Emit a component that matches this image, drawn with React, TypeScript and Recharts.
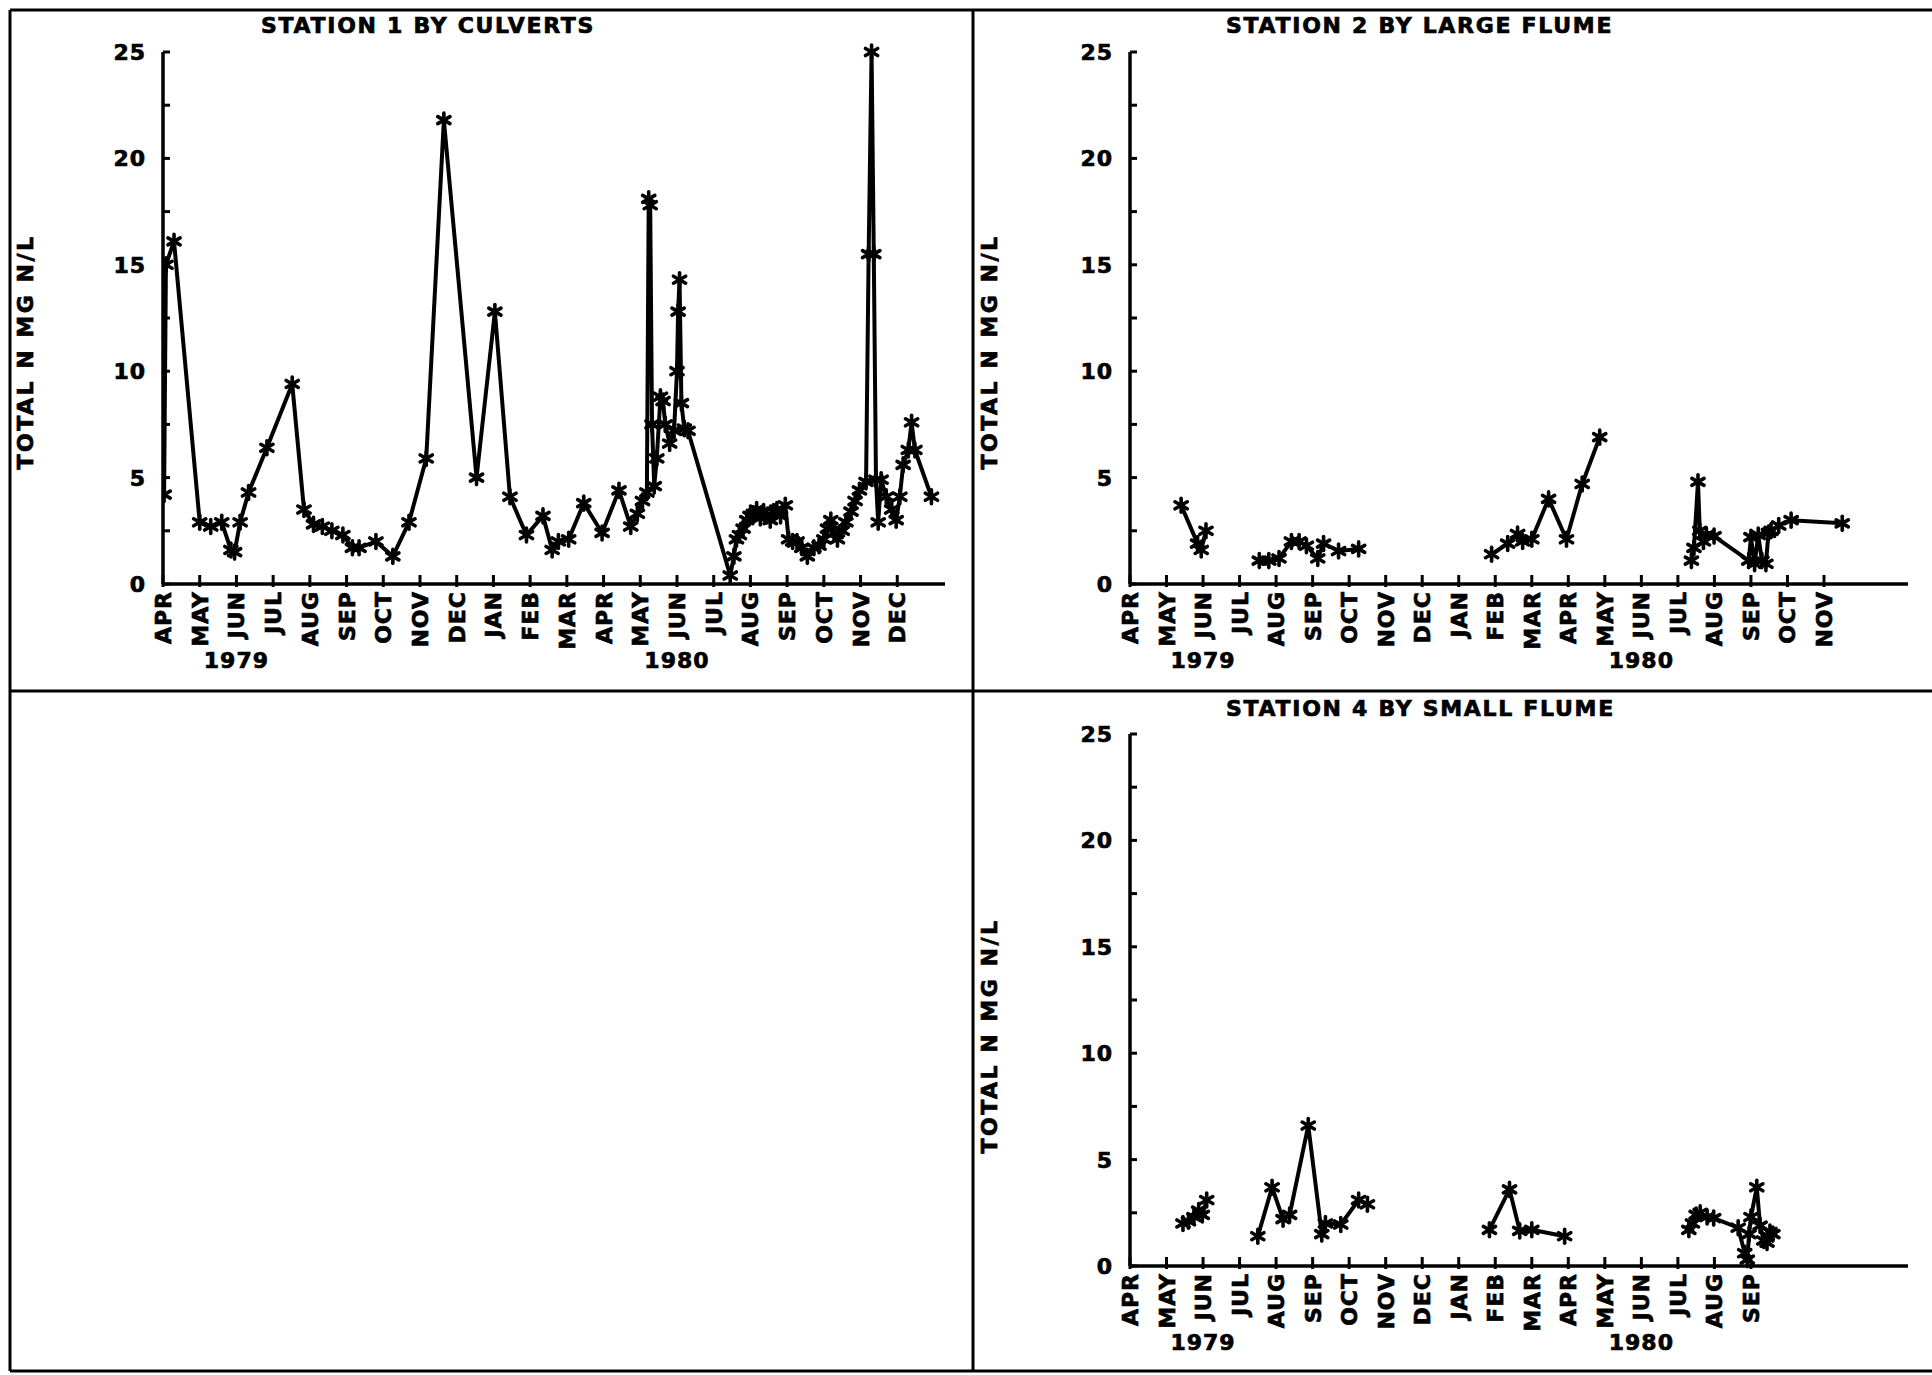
import React from "react";
import { Line, LineChart, XAxis, YAxis } from "recharts";

/* ---------- data: x = months since 1 Apr 1979, y = total N (mg N/L) ---------- */

const MONTH_LABELS = [
  "APR", "MAY", "JUN", "JUL", "AUG", "SEP", "OCT", "NOV", "DEC",
  "JAN", "FEB", "MAR", "APR", "MAY", "JUN", "JUL", "AUG", "SEP", "OCT", "NOV", "DEC",
];
const YEAR_LABELS = [
  { at: 2, label: "1979" },
  { at: 14, label: "1980" },
];
const Y_TICKS = [0, 2.5, 5, 7.5, 10, 12.5, 15, 17.5, 20, 22.5, 25];

type Pt = [number, number];

const station1: Pt[] = [
  [0.03, 4.2], [0.08, 15.0], [0.3, 16.1], [1.0, 2.9], [1.3, 2.7], [1.6, 2.9],
  [1.85, 1.6], [1.95, 1.5], [2.1, 2.9], [2.33, 4.3], [2.83, 6.4], [3.52, 9.4],
  [3.84, 3.5], [4.1, 2.8], [4.34, 2.7], [4.6, 2.5], [4.9, 2.3], [5.16, 1.7],
  [5.34, 1.7], [5.8, 2.0], [6.26, 1.3], [6.7, 2.9], [7.17, 5.9], [7.65, 21.8],
  [8.54, 5.0], [9.04, 12.8], [9.45, 4.1], [9.9, 2.3], [10.35, 3.2], [10.6, 1.6],
  [10.77, 2.0], [11.05, 2.1], [11.46, 3.8], [11.96, 2.4], [12.42, 4.4], [12.74, 2.7],
  [12.92, 3.3], [13.06, 3.9], [13.18, 4.3], [13.23, 18.1], [13.27, 17.8], [13.32, 7.5],
  [13.38, 4.6], [13.45, 5.9], [13.55, 8.8], [13.62, 8.6], [13.68, 7.5], [13.8, 6.6],
  [13.92, 7.2], [14.0, 10.0], [14.03, 12.8], [14.07, 14.3], [14.12, 8.5], [14.2, 7.3],
  [14.3, 7.2], [15.45, 0.4], [15.55, 1.3], [15.62, 2.1], [15.7, 2.3], [15.8, 2.6],
  [15.9, 3.0], [15.99, 3.2], [16.08, 3.3], [16.17, 3.5], [16.27, 3.1], [16.36, 3.4],
  [16.45, 3.2], [16.54, 3.0], [16.63, 3.4], [16.72, 3.5], [16.82, 3.2], [16.95, 3.7],
  [17.04, 2.1], [17.15, 2.0], [17.27, 2.0], [17.4, 1.7], [17.55, 1.3], [17.73, 1.7],
  [17.87, 1.8], [18.0, 2.1], [18.1, 2.6], [18.19, 3.0], [18.28, 2.4], [18.37, 2.1],
  [18.5, 2.5], [18.6, 2.9], [18.74, 3.4], [18.85, 3.9], [18.97, 4.4], [19.15, 4.8],
  [19.22, 15.5], [19.3, 25.0], [19.36, 15.5], [19.42, 4.9], [19.48, 2.9], [19.56, 4.9],
  [19.7, 4.1], [19.85, 3.5], [19.97, 3.0], [20.07, 4.1], [20.16, 5.6], [20.3, 6.3],
  [20.39, 7.6], [20.48, 6.3], [20.93, 4.1],
];

const station2Jun79: Pt[] = [[1.4, 3.7], [1.85, 1.9], [1.95, 1.6], [2.08, 2.5]];
const station2Aug79: Pt[] = [
  [3.54, 1.1], [3.8, 1.1], [4.08, 1.2], [4.42, 2.0], [4.63, 2.0], [4.83, 1.8],
  [5.14, 1.2], [5.3, 1.9], [5.71, 1.55], [6.26, 1.65],
];
const station2Feb80: Pt[] = [
  [9.9, 1.4], [10.34, 1.9], [10.61, 2.35], [10.75, 2.0], [11.0, 2.1], [11.46, 4.0],
  [11.95, 2.1], [12.38, 4.7], [12.86, 6.9],
];
const station2Aug80: Pt[] = [
  [15.37, 1.1], [15.44, 1.7], [15.55, 4.8], [15.6, 2.5], [15.7, 2.0], [15.78, 2.3],
  [15.99, 2.25], [16.94, 1.1], [17.0, 2.2], [17.1, 0.95], [17.2, 2.3], [17.3, 1.1],
  [17.41, 0.95], [17.48, 2.4], [17.55, 2.5], [17.76, 2.75], [18.1, 3.0], [19.5, 2.85],
];

const station4Jun79: Pt[] = [[1.45, 2.0], [1.6, 2.1], [1.75, 2.3], [1.88, 2.6], [1.98, 2.4], [2.1, 3.1]];
const station4Aug79: Pt[] = [
  [3.5, 1.4], [3.89, 3.7], [4.19, 2.2], [4.37, 2.4], [4.88, 6.6], [5.25, 1.5],
  [5.35, 2.0], [5.77, 1.95], [6.26, 3.1], [6.5, 2.9],
];
const station4Feb80: Pt[] = [[9.84, 1.7], [10.39, 3.6], [10.67, 1.65], [11.0, 1.7], [11.9, 1.4]];
const station4Aug80: Pt[] = [
  [15.3, 1.7], [15.4, 2.0], [15.5, 2.4], [15.61, 2.5], [15.8, 2.3], [15.98, 2.25],
  [16.65, 1.8], [16.83, 0.6], [16.9, 0.3], [16.95, 1.5], [17.0, 2.3], [17.16, 3.7],
  [17.25, 1.9], [17.35, 1.2], [17.44, 1.1], [17.52, 1.6], [17.6, 1.5],
];

/* ---------- helpers ---------- */

// segments joined with a null row so the line breaks between sampling runs
function toRows(...segments: Pt[][]) {
  const rows: { m: number; v: number | null }[] = [];
  segments.forEach((seg, i) => {
    if (i > 0) rows.push({ m: (segments[i - 1][segments[i - 1].length - 1][0] + seg[0][0]) / 2, v: null });
    seg.forEach(([m, v]) => rows.push({ m, v }));
  });
  return rows;
}

const FONT = "'DejaVu Sans', sans-serif";
const X_DOMAIN: [number, number] = [0, 21.3];

const labelText = {
  fontFamily: FONT,
  fontWeight: "bold" as const,
  fontSize: 22,
  letterSpacing: 1,
  fill: "#000",
  stroke: "#000",
  strokeWidth: 0.7,
};

function Asterisk(props: any) {
  const { cx, cy, payload, index } = props;
  if (payload?.v == null || cx == null || cy == null) return <g key={`a-${index}`} />;
  const r = 7;
  const dx = r * 0.87;
  const dy = r * 0.5;
  return (
    <g key={`a-${index}`} stroke="#000" strokeWidth={3.6} strokeLinecap="round">
      <line x1={cx} y1={cy - r} x2={cx} y2={cy + r} />
      <line x1={cx - dx} y1={cy - dy} x2={cx + dx} y2={cy + dy} />
      <line x1={cx - dx} y1={cy + dy} x2={cx + dx} y2={cy - dy} />
    </g>
  );
}

function MonthTick(props: any) {
  const { x, y, payload } = props;
  const i = payload.value as number;
  const year = YEAR_LABELS.find((yl) => yl.at === i);
  return (
    <g>
      <line x1={x} y1={y - 9} x2={x} y2={y + 3} stroke="#000" strokeWidth={3} />
      <text transform={`translate(${x},${y + 7}) rotate(-90)`} dy={8} textAnchor="end" {...labelText}>
        {MONTH_LABELS[i]}
      </text>
      {year && (
        <text x={x} y={y + 84} textAnchor="middle" {...labelText}>
          {year.label}
        </text>
      )}
    </g>
  );
}

function LevelTick(props: any) {
  const { x, y, payload } = props;
  const v = payload.value as number;
  return (
    <g>
      <line x1={x} y1={y} x2={x + 7} y2={y} stroke="#000" strokeWidth={3} />
      {v % 5 === 0 && (
        <text x={x - 17} y={y} dy={8} textAnchor="end" {...labelText}>
          {v}
        </text>
      )}
    </g>
  );
}

function StationPanel({
  rows,
  lastMonth,
  left,
  top,
  width,
  height,
  margin,
  yWidth,
}: {
  rows: { m: number; v: number | null }[];
  lastMonth: number;
  left: number;
  top: number;
  width: number;
  height: number;
  margin: { top: number; right: number; bottom: number; left: number };
  yWidth: number;
}) {
  const ticks = MONTH_LABELS.slice(0, lastMonth + 1).map((_, i) => i);
  return (
    <div style={{ position: "absolute", left, top }}>
      <LineChart width={width} height={height} margin={margin}>
        <XAxis
          type="number"
          dataKey="m"
          domain={X_DOMAIN}
          ticks={ticks}
          interval={0}
          height={100}
          tickSize={0}
          tickMargin={0}
          tickLine={false}
          axisLine={{ stroke: "#000", strokeWidth: 3.5 }}
          tick={(p: any) => <MonthTick {...p} />}
          allowDataOverflow
        />
        <YAxis
          type="number"
          domain={[0, 25]}
          ticks={Y_TICKS}
          interval={0}
          width={yWidth}
          tickSize={0}
          tickMargin={0}
          tickLine={false}
          axisLine={{ stroke: "#000", strokeWidth: 3.5 }}
          tick={(p: any) => <LevelTick {...p} />}
        />
        <Line
          data={rows}
          dataKey="v"
          type="linear"
          stroke="#000"
          strokeWidth={4}
          connectNulls={false}
          dot={(p: any) => <Asterisk {...p} />}
          activeDot={false}
          isAnimationActive={false}
        />
      </LineChart>
    </div>
  );
}

const titleText = { ...labelText, letterSpacing: 1.7 };
const axisTitleText = { ...labelText, letterSpacing: 2.5 };

export default function App() {
  return (
    <div
      style={{
        position: "absolute",
        left: 0,
        top: 0,
        width: 1932,
        height: 1375,
        background: "#fff",
        overflow: "hidden",
      }}
    >
      <svg width={1932} height={1375} style={{ position: "absolute", left: 0, top: 0 }}>
        <g stroke="#000" strokeWidth={3} fill="none">
          <path d="M10,10 H1932" />
          <path d="M10,10 V1371" />
          <path d="M10,1371 H1932" />
          <path d="M973,10 V1371" />
          <path d="M10,691 H1932" />
        </g>
        <text x={261} y={33} {...titleText}>STATION 1 BY CULVERTS</text>
        <text x={1226} y={33} {...titleText}>STATION 2 BY LARGE FLUME</text>
        <text x={1226} y={716} {...titleText}>STATION 4 BY SMALL FLUME</text>
        <text transform="translate(33,352) rotate(-90)" textAnchor="middle" {...axisTitleText}>
          TOTAL N MG N/L
        </text>
        <text transform="translate(997,352) rotate(-90)" textAnchor="middle" {...axisTitleText}>
          TOTAL N MG N/L
        </text>
        <text transform="translate(997,1036) rotate(-90)" textAnchor="middle" {...axisTitleText}>
          TOTAL N MG N/L
        </text>
      </svg>

      <StationPanel
        rows={toRows(station1)}
        lastMonth={20}
        left={0}
        top={0}
        width={960}
        height={690}
        margin={{ top: 52, right: 15, bottom: 6, left: 0 }}
        yWidth={163}
      />
      <StationPanel
        rows={toRows(station2Jun79, station2Aug79, station2Feb80, station2Aug80)}
        lastMonth={19}
        left={970}
        top={0}
        width={962}
        height={690}
        margin={{ top: 52, right: 24, bottom: 6, left: 0 }}
        yWidth={160}
      />
      <StationPanel
        rows={toRows(station4Jun79, station4Aug79, station4Feb80, station4Aug80)}
        lastMonth={17}
        left={970}
        top={690}
        width={962}
        height={685}
        margin={{ top: 44, right: 24, bottom: 9, left: 0 }}
        yWidth={160}
      />
    </div>
  );
}
